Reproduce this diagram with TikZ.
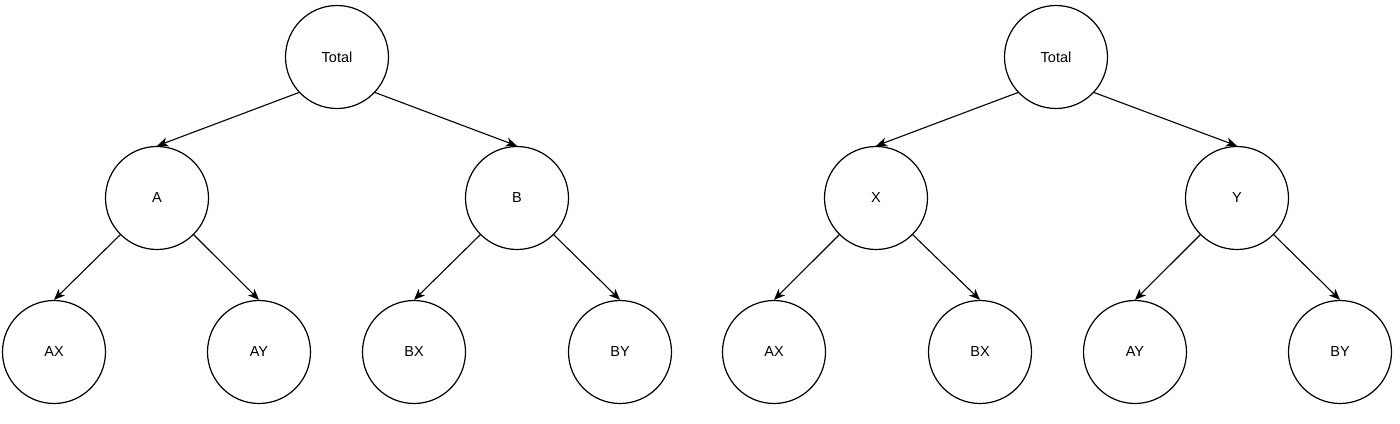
\documentclass[tikz,border=0pt]{standalone}
\usepackage{fontspec}
\setmainfont{Liberation Sans}
\usetikzlibrary{arrows.meta}
\begin{document}
\begin{tikzpicture}[x=1pt,y=-1pt,
  tnode/.style={circle,draw,line width=1.2pt,minimum size=103pt,inner sep=0pt,font=\fontsize{14.5}{17}\selectfont},
  edge/.style={line width=1.1pt,-{Stealth[length=11pt,width=9pt,inset=3pt]}}]
\useasboundingbox (0,0) rectangle (1400,423);
% left tree
\node[tnode] (T1) at (337,57) {Total};
\node[tnode] (A) at (157,198) {A};
\node[tnode] (B) at (517,198) {B};
\node[tnode] (AX1) at (54,352) {AX};
\node[tnode] (AY1) at (259,352) {AY};
\node[tnode] (BX1) at (414,352) {BX};
\node[tnode] (BY1) at (620,352) {BY};
% right tree
\node[tnode] (T2) at (1056,57) {Total};
\node[tnode] (X) at (876,198) {X};
\node[tnode] (Y) at (1237,198) {Y};
\node[tnode] (AX2) at (774,352) {AX};
\node[tnode] (BX2) at (980,352) {BX};
\node[tnode] (AY2) at (1135,352) {AY};
\node[tnode] (BY2) at (1340,352) {BY};
% edges
\draw[edge] (T1.223) -- (A.north);
\draw[edge] (T1.317) -- (B.north);
\draw[edge] (A.225) -- (AX1.north);
\draw[edge] (A.315) -- (AY1.north);
\draw[edge] (B.225) -- (BX1.north);
\draw[edge] (B.315) -- (BY1.north);
\draw[edge] (T2.223) -- (X.north);
\draw[edge] (T2.317) -- (Y.north);
\draw[edge] (X.225) -- (AX2.north);
\draw[edge] (X.315) -- (BX2.north);
\draw[edge] (Y.225) -- (AY2.north);
\draw[edge] (Y.315) -- (BY2.north);
\end{tikzpicture}
\end{document}
